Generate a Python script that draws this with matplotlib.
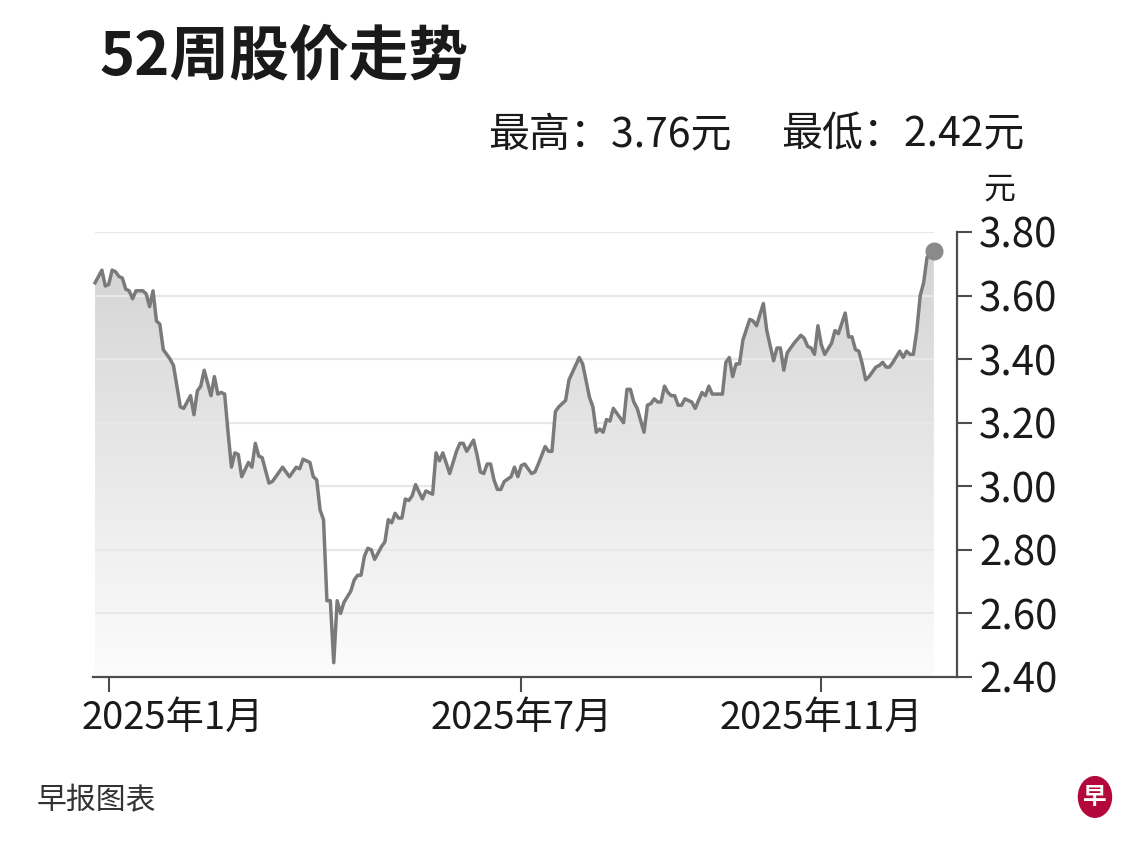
# -*- coding: utf-8 -*-
"""52-week share price chart (zaobao style)."""

import numpy as np
import matplotlib
matplotlib.use("Agg")
import matplotlib.pyplot as plt
from matplotlib.patches import Ellipse
from matplotlib.colors import LinearSegmentedColormap
from matplotlib.transforms import ScaledTranslation

plt.rcParams['font.family'] = ['Noto Sans CJK SC', 'DejaVu Sans']

# Trading-day index and closing price.
days = [0, 2, 3, 4, 5, 6, 7, 8, 9, 10, 11, 12, 14, 15, 16, 17, 18, 19, 20, 22,
        23, 24, 25, 26, 28, 29, 30, 31, 32, 34, 35, 36, 37, 38, 39, 40, 41, 42, 43, 45,
        46, 47, 48, 49, 51, 52, 55, 57, 59, 60, 61, 63, 64, 65, 66, 67, 68, 69, 70, 71,
        72, 73, 75, 76, 77, 78, 79, 80, 81, 82, 84, 85, 86, 87, 88, 89, 90, 91, 92, 93,
        94, 96, 97, 99, 100, 101, 102, 104, 106, 107, 108, 109, 111, 112, 113, 114, 115, 116, 117, 118,
        119, 120, 122, 123, 124, 125, 126, 128, 129, 130, 132, 133, 134, 135, 136, 138, 139, 142, 143, 145,
        146, 147, 148, 149, 150, 151, 152, 153, 155, 156, 157, 158, 159, 161, 162, 163, 164, 165, 166, 167,
        168, 169, 170, 171, 172, 173, 175, 176, 178, 179, 180, 181, 184, 185, 186, 187, 188, 189, 190, 192,
        193, 194, 196, 197, 199, 200, 201, 202, 203, 205, 207, 208, 209, 210, 211, 212, 213, 214, 216, 217,
        218, 220, 221, 222, 223, 224, 225, 226, 227, 229, 230, 231, 232, 233, 234, 236, 237, 238, 239, 240,
        241, 242, 243, 244, 246]
prices = [3.64, 3.68, 3.63, 3.635, 3.68, 3.675, 3.66, 3.655, 3.62, 3.615, 3.59, 3.615, 3.615, 3.605, 3.565, 3.615, 3.52, 3.51, 3.43, 3.40,
          3.38, 3.315, 3.25, 3.245, 3.285, 3.225, 3.30, 3.315, 3.365, 3.285, 3.345, 3.29, 3.295, 3.29, 3.17, 3.06, 3.105, 3.10, 3.03, 3.075,
          3.06, 3.135, 3.095, 3.09, 3.01, 3.015, 3.06, 3.03, 3.06, 3.055, 3.085, 3.075, 3.03, 3.02, 2.925, 2.895, 2.64, 2.64, 2.445, 2.64,
          2.60, 2.635, 2.67, 2.705, 2.72, 2.72, 2.78, 2.805, 2.80, 2.77, 2.81, 2.825, 2.895, 2.885, 2.915, 2.90, 2.90, 2.96, 2.955, 2.97,
          3.005, 2.96, 2.985, 2.975, 3.105, 3.08, 3.105, 3.04, 3.11, 3.135, 3.135, 3.11, 3.145, 3.10, 3.045, 3.04, 3.07, 3.07, 3.02, 2.99,
          2.99, 3.015, 3.03, 3.06, 3.03, 3.065, 3.07, 3.04, 3.045, 3.07, 3.125, 3.11, 3.11, 3.235, 3.25, 3.27, 3.335, 3.405, 3.385, 3.28,
          3.25, 3.17, 3.18, 3.17, 3.21, 3.205, 3.245, 3.23, 3.20, 3.305, 3.305, 3.265, 3.245, 3.17, 3.255, 3.26, 3.275, 3.265, 3.265, 3.315,
          3.295, 3.285, 3.285, 3.255, 3.255, 3.275, 3.265, 3.245, 3.295, 3.285, 3.315, 3.29, 3.29, 3.39, 3.405, 3.345, 3.385, 3.385, 3.46, 3.525,
          3.52, 3.505, 3.575, 3.49, 3.395, 3.435, 3.435, 3.365, 3.42, 3.45, 3.475, 3.465, 3.44, 3.435, 3.415, 3.505, 3.445, 3.415, 3.45, 3.49,
          3.48, 3.545, 3.47, 3.47, 3.43, 3.425, 3.385, 3.335, 3.345, 3.375, 3.38, 3.39, 3.375, 3.375, 3.39, 3.425, 3.405, 3.425, 3.415, 3.415,
          3.49, 3.60, 3.64, 3.72, 3.74]

tick_days = [4, 125, 213]
tick_labels = ["2025年1月", "2025年7月", "2025年11月"]
y_ticks = [2.40, 2.60, 2.80, 3.00, 3.20, 3.40, 3.60, 3.80]

high_price = 3.76
low_price = 2.42

line_color = '#7a7a7a'
axis_color = '#4d4d4d'
text_color = '#1a1a1a'

fig = plt.figure(figsize=(11.4, 8.46), dpi=100)
ax = fig.add_axes([0.0816, 0.1998, 0.7579, 0.526])

x = np.array(days, dtype=float)
y = np.array(prices)

ymin, ymax = 2.40, 3.80

# Gradient fill under the line.
cmap = LinearSegmentedColormap.from_list('fade', ['#fcfcfc', '#d2d2d2'])
grad = np.linspace(0, 1, 256).reshape(-1, 1)
poly = ax.fill_between(x, y, ymin, color='none', lw=0)
im = ax.imshow(grad, extent=[x[0], x[-1], ymin, ymax], origin='lower', aspect='auto', cmap=cmap,
               zorder=1, interpolation='bicubic')
im.set_clip_path(poly.get_paths()[0], transform=ax.transData)

# Grid lines only over the data range.
ax.hlines(y_ticks[1:], x[0], x[-1], colors='#e8e8e8', lw=1.6, zorder=2)

ax.plot(x, y, color=line_color, lw=2.5, zorder=3, solid_joinstyle='round')
ax.plot(x[-1], y[-1], 'o', color='#8a8a8a', ms=12, zorder=4, clip_on=False)

ax.set_xlim(-0.6, 252.8)
ax.set_ylim(ymin, ymax)

for side in ['left', 'top']:
    ax.spines[side].set_visible(False)
for side in ['right', 'bottom']:
    ax.spines[side].set_color(axis_color)
    ax.spines[side].set_linewidth(1.6)

ax.yaxis.tick_right()
ax.set_yticks(y_ticks)
ax.set_yticklabels(["%.2f" % v for v in y_ticks])
ax.tick_params(axis='y', direction='out', length=11, width=1.5, color=axis_color, pad=5,
               labelsize=29, labelcolor=text_color)

ax.set_xticks(tick_days)
ax.set_xticklabels(tick_labels)
ax.tick_params(axis='x', direction='out', length=11, width=1.5, color=axis_color, pad=5,
               labelsize=27.5, labelcolor=text_color)
# First label is pushed right of its tick, as in the original.
first = ax.get_xticklabels()[0]
first.set_horizontalalignment('left')
first.set_transform(first.get_transform() + ScaledTranslation(-0.27, 0, fig.dpi_scale_trans))

# Texts.
fig.text(0.087, 0.932, "52周股价走势", fontsize=43, fontweight='bold', color=text_color, va='center')
fig.text(0.428, 0.84, "最高：%.2f元" % high_price, fontsize=29.5, color=text_color, va='center')
fig.text(0.685, 0.84, "最低：%.2f元" % low_price, fontsize=29.5, color=text_color, va='center')
fig.text(0.877, 0.776, "元", fontsize=23, color=text_color, va='center', ha='center')
fig.text(0.032, 0.053, "早报图表", fontsize=21.5, color='#333333', va='center')

# Logo.
logo = Ellipse((0.9605, 0.058), 0.029, 0.048, transform=fig.transFigure, color='#b3093a')
fig.patches.append(logo)
fig.text(0.9605, 0.058, "早", fontsize=17, color='white', va='center', ha='center', fontweight='bold')

fig.savefig('out.png', dpi=100, facecolor='white')
